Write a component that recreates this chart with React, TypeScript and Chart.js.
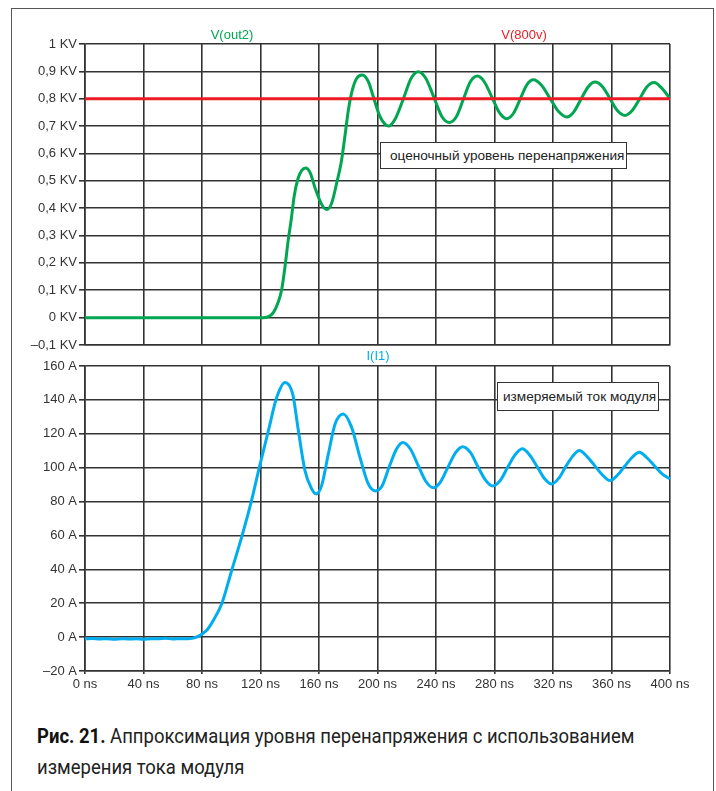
import React, { useEffect, useRef } from 'react';
import { Chart, registerables } from 'chart.js';

Chart.register(...registerables);

// ---------- data ----------
const timeTicks = [0, 40, 80, 120, 160, 200, 240, 280, 320, 360, 400];
const timeTickLabels = ['0 ns', '40 ns', '80 ns', '120 ns', '160 ns', '200 ns', '240 ns', '280 ns', '320 ns', '360 ns', '400 ns'];

const kvTicks = [-0.1, 0, 0.1, 0.2, 0.3, 0.4, 0.5, 0.6, 0.7, 0.8, 0.9, 1.0];
const kvTickLabels = ['–0,1 KV', '0 KV', '0,1 KV', '0,2 KV', '0,3 KV', '0,4 KV', '0,5 KV', '0,6 KV', '0,7 KV', '0,8 KV', '0,9 KV', '1 KV'];

const ampTicks = [-20, 0, 20, 40, 60, 80, 100, 120, 140, 160];
const ampTickLabels = ['–20 A', '0 A', '20 A', '40 A', '60 A', '80 A', '100 A', '120 A', '140 A', '160 A'];

// V(out2), KV
const vOut2Time = [0, 100, 122, 126, 129, 132, 134.5, 136.8, 139, 141, 143, 145.4, 148.2, 151, 154, 157.3, 161.9, 165.3, 168.7, 172.1, 175.1, 177.4, 180.1, 182.8, 185.8, 189.6, 193.7, 197.1, 201.7, 207.6,
  212, 217.7, 223, 227.9, 233, 238.5, 244, 249.1, 254, 258.7, 263.5, 268.3, 273, 278.3, 283.5, 288.3, 293, 297.5, 302, 306.6,
  312, 318, 324, 329.4, 334, 339, 344, 348.7, 354, 359, 364, 369.3, 374, 379.2, 384, 389.1, 394.5, 400];
const vOut2Kv = [0, 0, 0, 0.005, 0.02, 0.055, 0.103, 0.188, 0.285, 0.358, 0.443, 0.504, 0.538, 0.547, 0.529, 0.474, 0.413, 0.395, 0.419, 0.492, 0.565, 0.65, 0.759, 0.832, 0.875, 0.887, 0.863, 0.808, 0.735, 0.7,
  0.725, 0.8, 0.875, 0.899, 0.875, 0.806, 0.735, 0.713, 0.735, 0.798, 0.862, 0.883, 0.862, 0.805, 0.748, 0.727, 0.747, 0.798, 0.85, 0.869,
  0.85, 0.801, 0.752, 0.733, 0.75, 0.797, 0.843, 0.861, 0.843, 0.8, 0.757, 0.739, 0.756, 0.799, 0.842, 0.859, 0.838, 0.8];

// V(800v), KV
const v800Time = [0, 400];
const v800Kv = [0.8, 0.8];

// I(I1), A
const i1Time = [0, 5, 10, 15, 20, 25, 30, 35, 40, 45, 50, 55, 60, 65, 70, 74, 78.6, 83.2, 87.7, 93.5, 100.3, 107.1, 113.3, 119.2, 125.4, 131.1, 136.8, 142, 145.9, 150.4, 155, 158, 161.8, 166.4, 171, 176.6, 182.3, 188, 193.7, 198.5,
  203, 208, 213, 217.3, 222.5, 227.7, 233, 238.2, 243, 248.2, 253.5, 258.3, 263.5, 268.6, 274, 278.8, 284, 289, 294, 299, 304, 309, 314, 319.1, 324, 328.5, 333.5, 338, 343, 348.5, 354, 359, 364, 369, 374, 379, 384, 389.5, 395, 400];
const i1Amp = [-1.0, -0.8, -1.1, -0.9, -1.2, -0.9, -1.1, -1.0, -1.3, -0.9, -1.0, -0.7, -1.1, -0.9, -1.0, -0.6, 1.0, 4.0, 9.8, 19.7, 39.3, 59.0, 78.6, 100.2, 121.8, 141.5, 150.3, 143.5, 121.8, 98.3, 87.5, 84.5, 89.4, 108.1, 125.8, 131.7, 123.8, 106.1, 90.4, 86.3,
  89, 100.5, 111, 114.9, 111, 101.5, 92, 88.1, 91.5, 100.3, 109, 112.4, 109, 100.7, 92.5, 89.2, 92.5, 100.2, 107.5, 111.1, 107.5, 100.8, 93.8, 90.4, 93.8, 100.3, 106.8, 110.1, 106.8, 101.2, 95.5, 92.4, 95.5, 100.8, 106, 109.1, 106, 101, 96, 93.4];

// ---------- styles ----------
const FONT = "'Liberation Sans', Arial, Helvetica, sans-serif";
const CAPTION_FONT = "Roboto, 'Liberation Sans', sans-serif";
const GRID = '#333333';
const GRID_W = 1.6;
const TICK_COLOR = '#333333';
const GREEN = '#00a651';
const RED = '#ed1c24';
const BLUE = '#00aeef';

const pts = (xs: number[], ys: number[]) => xs.map((x, i) => ({ x, y: ys[i] }));

function xScale(showLabels: boolean) {
  return {
    type: 'linear',
    min: 0,
    max: 400,
    afterBuildTicks: (s: any) => { s.ticks = timeTicks.map((v) => ({ value: v })); },
    afterFit: (s: any) => { s.height = showLabels ? 29 : 0; },
    grid: { color: GRID, lineWidth: GRID_W, drawTicks: showLabels, tickLength: 3 },
    border: { color: GRID, width: GRID_W },
    ticks: {
      display: showLabels,
      color: TICK_COLOR,
      font: { family: FONT, size: 13 },
      padding: 3,
      maxRotation: 0,
      autoSkip: false,
      callback: (_v: any, i: number) => timeTickLabels[i],
    },
  };
}

function yScale(min: number, max: number, values: number[], labels: string[]) {
  return {
    type: 'linear',
    min,
    max,
    afterBuildTicks: (s: any) => { s.ticks = values.map((v) => ({ value: v })); },
    afterFit: (s: any) => { s.width = 85; },
    grid: { color: GRID, lineWidth: GRID_W, drawTicks: true, tickLength: 6 },
    border: { color: GRID, width: GRID_W },
    ticks: {
      color: TICK_COLOR,
      font: { family: FONT, size: 13 },
      padding: 2,
      autoSkip: false,
      callback: (_v: any, i: number) => labels[i],
    },
  };
}

const lineStyle = { pointRadius: 0, borderWidth: 3, fill: false, cubicInterpolationMode: 'monotone' as const };

export default function App() {
  const topRef = useRef<HTMLCanvasElement>(null);
  const botRef = useRef<HTMLCanvasElement>(null);

  useEffect(() => {
    const top = new Chart(topRef.current!, {
      type: 'line',
      data: {
        datasets: [
          { label: 'V(800v)', data: pts(v800Time, v800Kv), borderColor: RED, ...lineStyle, cubicInterpolationMode: 'default', tension: 0 },
          { label: 'V(out2)', data: pts(vOut2Time, vOut2Kv), borderColor: GREEN, ...lineStyle },
        ],
      },
      options: {
        responsive: false,
        animation: false,
        parsing: false,
        layout: { padding: { left: 0, right: 46, top: 44, bottom: 15 } },
        plugins: { legend: { display: false }, tooltip: { enabled: false } },
        scales: {
          x: xScale(false) as any,
          y: yScale(-0.1, 1.0, kvTicks, kvTickLabels) as any,
        },
      },
    });
    const bot = new Chart(botRef.current!, {
      type: 'line',
      data: {
        datasets: [
          { label: 'I(I1)', data: pts(i1Time, i1Amp), borderColor: BLUE, ...lineStyle },
        ],
      },
      options: {
        responsive: false,
        animation: false,
        parsing: false,
        layout: { padding: { left: 0, right: 46, top: 16, bottom: 10 } },
        plugins: { legend: { display: false }, tooltip: { enabled: false } },
        scales: {
          x: xScale(true) as any,
          y: yScale(-20, 160, ampTicks, ampTickLabels) as any,
        },
      },
    });
    return () => { top.destroy(); bot.destroy(); };
  }, []);

  const label = (text: string, cx: number, cy: number, color: string) => (
    <div style={{ position: 'absolute', left: cx, top: cy, transform: 'translate(-50%, -50%)', color, fontSize: 13, lineHeight: '13px', whiteSpace: 'nowrap' }}>{text}</div>
  );

  const boxStyle: React.CSSProperties = {
    position: 'absolute', boxSizing: 'border-box', border: '1.5px solid #333', background: '#fff',
    fontSize: 13.6, color: '#222', display: 'flex', alignItems: 'center', whiteSpace: 'nowrap',
  };

  return (
    <div style={{ position: 'absolute', left: 0, top: 0, width: 716, height: 791, background: '#fff', overflow: 'hidden', fontFamily: FONT }}>
      <div style={{ position: 'absolute', left: 11, top: 8, width: 703, height: 783, boxSizing: 'border-box', borderTop: '1.5px solid #555', borderLeft: '1.5px solid #555', borderRight: '1.5px solid #555' }} />
      <canvas ref={topRef} width={716} height={360} style={{ position: 'absolute', left: 0, top: 0 }} />
      <canvas ref={botRef} width={716} height={360} style={{ position: 'absolute', left: 0, top: 350 }} />
      {label('V(out2)', 232, 34, GREEN)}
      {label('V(800v)', 524, 34, RED)}
      {label('I(I1)', 378, 355, BLUE)}
      <div style={{ ...boxStyle, left: 380, top: 142, width: 247, height: 27, paddingLeft: 9 }}>оценочный уровень перенапряжения</div>
      <div style={{ ...boxStyle, left: 497, top: 382, width: 162, height: 29, paddingLeft: 5 }}>измеряемый ток модуля</div>
      <div style={{ position: 'absolute', left: 37, top: 721, width: 780, fontFamily: CAPTION_FONT, fontSize: 21, lineHeight: '31px', color: '#222', whiteSpace: 'nowrap', transform: 'scaleX(0.88)', transformOrigin: '0 0' }}>
        <span style={{ fontWeight: 700, color: '#111' }}>Рис. 21.</span> Аппроксимация уровня перенапряжения с использованием<br />измерения тока модуля
      </div>
    </div>
  );
}
